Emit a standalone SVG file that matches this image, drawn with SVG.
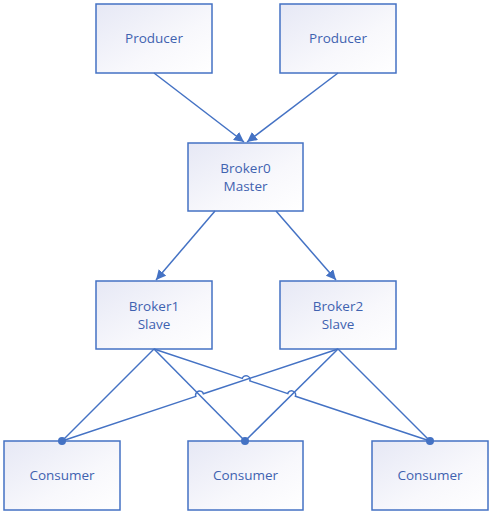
<svg xmlns="http://www.w3.org/2000/svg" width="491" height="515" viewBox="0 0 491 515">
<defs>
<linearGradient id="g" x1="0" y1="0" x2="1" y2="1">
<stop offset="0" stop-color="#E6E8F5"/>
<stop offset="0.6" stop-color="#F8F8FC"/>
<stop offset="1" stop-color="#FFFFFF"/>
</linearGradient>
<marker id="arr" viewBox="0 0 10 10" refX="10" refY="5" markerWidth="10" markerHeight="10" markerUnits="userSpaceOnUse" orient="auto">
<path d="M0,0 L10,5 L0,10 z" fill="#4472C4"/>
</marker>
<style>
.box{fill:url(#g);stroke:#4472C4;stroke-width:1.5}
.t{font-family:"Open Sans","Noto Sans",sans-serif;font-size:13.5px;fill:#3F62B0;text-anchor:middle}
.c{fill:none;stroke:#4472C4;stroke-width:1.5}
.dot{fill:#4472C4}
</style>
</defs>
<rect width="491" height="515" fill="#FFFFFF"/>
<g id="producer1"><rect class="box" x="96" y="4" width="116" height="69"/><text class="t" x="154" y="43">Producer</text></g>
<g id="producer2"><rect class="box" x="280" y="4" width="116" height="69"/><text class="t" x="338" y="43">Producer</text></g>
<g id="broker0"><rect class="box" x="188" y="143" width="115" height="68"/><text class="t" x="245.5" y="173">Broker0</text><text class="t" x="245.5" y="191">Master</text></g>
<g id="broker1"><rect class="box" x="96" y="281" width="116" height="68"/><text class="t" x="154" y="311">Broker1</text><text class="t" x="154" y="329">Slave</text></g>
<g id="broker2"><rect class="box" x="280" y="281" width="116" height="68"/><text class="t" x="338" y="311">Broker2</text><text class="t" x="338" y="329">Slave</text></g>
<g id="consumer1"><rect class="box" x="4" y="441" width="116" height="69"/><text class="t" x="62" y="480">Consumer</text></g>
<g id="consumer2"><rect class="box" x="188" y="441" width="115" height="69"/><text class="t" x="245.5" y="480">Consumer</text></g>
<g id="consumer3"><rect class="box" x="372" y="441" width="116" height="69"/><text class="t" x="430" y="480">Consumer</text></g>
<g id="connectors">
<path class="c" d="M154,73 L244,142" marker-end="url(#arr)"/>
<path class="c" d="M338,73 L247,142" marker-end="url(#arr)"/>
<path class="c" d="M215,211 L156,280" marker-end="url(#arr)"/>
<path class="c" d="M276,211 L336,280" marker-end="url(#arr)"/>
<path class="c" d="M154,349 L62,441"/>
<path class="c" d="M154,349 L245,441"/>
<path class="c" d="M154,349 L242.2,378.4 A4,4 0 0 1 249.8,380.9 L287.8,393.6 A4,4 0 0 1 295.4,396.2 L430,441"/>
<path class="c" d="M62,441 L195.8,396.4 A4,4 0 0 1 203.4,393.8 L338,349"/>
<path class="c" d="M338,349 L245,441"/>
<path class="c" d="M338,349 L430,441"/>
<circle class="dot" cx="62" cy="441" r="4"/>
<circle class="dot" cx="245" cy="441" r="4"/>
<circle class="dot" cx="430" cy="441" r="4"/>
</g>
</svg>
